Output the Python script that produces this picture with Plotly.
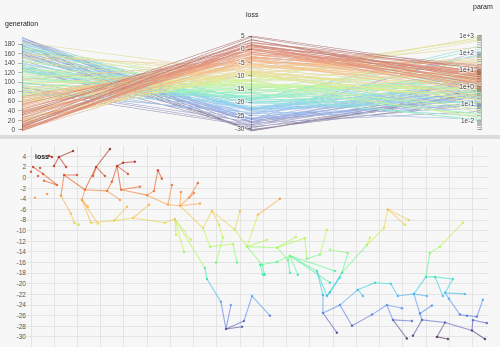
import math
import plotly.graph_objects as go
import plotly.colors as pc

# ---------------- data (one entry per individual) ----------------
node_id = [
    "A1","A2","A3","A4","A5","A6","A7","A8","A9","A10","A11","A12","A13","A14","A15",
    "B1","B2","B3","B4","B5","B6","B7","B8","B9","B10","B11","B12","B13","B14","B15",
    "B16","B17","B18","B19","B20","B21","B22","B23","B24","B25","B26","B27","B28","B29","B30",
    "C1","C2","C3","C4","C5",
    "D3","D4","D5","D6","D7","D8",
    "E1","E2","E3","E4","E5","E6","E7","E8","E9","E10","E11","E12","E13","E14","E15",
    "E16","E17","E18","E19","E20","E21","E22","E23","E24","E25","E26","E27","E28","E29","E30",
    "E31","E32","E33","E34","E35","E36","E37",
    "F1","F2","F3","F4","F5","F6","F7","F8","F9","F10","F11","F12","F13","F14",
    "G1","G2","G3","G4","G5","G6","G7","G8","G9","G10","G11","G12","G13","G14","G15",
    "G16","G17","G18","G19","G20","G21","G22","G23","G24","G25","G26","G27","G28","G29","G30",
    "G31","G32","G33",
    "H2","H3","H4","H5","H6","H7","H8","H9","H10","H14","H15","H16","H17","H18","H19","H20",
]
generation = [
    12.0,18.1,9.9,15.1,7.7,9.0,0.9,5.2,11.2,5.6,3.9,0.0,3.0,1.7,6.9,
    23.2,28.0,34.0,26.7,14.2,19.8,12.9,17.2,18.5,20.6,21.9,24.5,25.8,28.8,32.7,
    34.8,37.0,39.6,44.7,41.7,38.7,49.9,58.9,38.3,52.9,54.6,56.3,60.6,31.8,46.9,
    35.7,43.9,50.8,41.3,57.6,
    64.1,68.0,71.8,70.1,72.7,64.5,
    61.9,62.4,68.8,65.8,74.8,75.7,81.7,83.9,90.8,86.0,91.6,95.1,102.8,74.0,77.8,
    77.0,87.7,89.9,80.9,82.6,79.6,86.9,88.6,92.9,99.4,97.6,107.1,100.6,105.8,110.5,
    111.4,114.0,117.8,118.7,127.3,124.3,101.5,
    111.4,130.8,123.0,127.3,114.8,105.8,98.5,99.8,128.6,125.6,131.6,125.6,132.9,132.9,
    153.5,162.6,160.9,151.8,144.5,133.8,128.6,145.8,136.3,128.6,185.8,175.9,171.6,169.9,173.8,
    164.7,157.8,154.8,148.0,140.6,142.8,170.3,167.3,181.5,178.1,179.8,184.5,187.5,191.8,194.4,
    186.7,177.2,172.5,
    138.1,146.7,153.1,159.6,155.7,163.9,168.2,161.7,164.3,178.1,174.6,179.4,189.7,195.3,190.1,196.1,
]
loss = [
    3.9,5.0,2.2,2.0,4.1,3.9,2.0,0.7,-1.4,-0.6,1.8,1.1,0.3,-3.8,-3.1,
    -2.3,2.0,5.4,0.3,0.5,0.5,-3.4,-6.8,-8.5,-8.9,-4.2,-5.5,-8.5,-8.7,-2.5,
    -0.8,2.2,2.8,3.0,0.7,-2.3,-3.3,-5.1,-4.2,-2.5,1.4,-0.2,-1.4,0.3,-1.7,
    -8.1,-7.6,-5.1,-5.5,-8.5,
    -5.3,-3.8,-1.0,-2.9,-4.9,-2.7,
    -7.8,-10.8,-11.7,-14.0,-17.0,-19.1,-23.4,-28.5,-28.1,-24.0,-27.0,-22.3,-26.0,-9.5,-6.3,
    -13.0,-9.8,-6.3,-8.9,-11.3,-16.0,-12.5,-16.0,-13.0,-16.4,-7.0,-4.0,-18.3,-13.2,-15.5,
    -17.9,-11.2,-11.4,-15.3,-9.8,-14.5,-11.7,
    -14.7,-17.6,-17.6,-22.3,-18.3,-15.9,-16.4,-18.3,-19.8,-22.1,-29.2,-25.5,-24.0,-18.8,
    -6.0,-8.0,-8.9,-9.5,-12.7,-17.9,-21.6,-11.3,-14.2,-13.6,-8.5,-13.0,-14.2,-18.7,-18.7,
    -21.9,-22.3,-20.0,-19.8,-21.1,-22.3,-22.3,-25.6,-19.1,-21.7,-22.8,-25.8,-26.0,-26.2,-23.0,
    -21.9,-22.3,-24.1,
    -27.9,-25.8,-24.0,-24.6,-26.8,-27.0,-26.8,-30.3,-29.8,-27.3,-30.0,-30.4,-28.8,-30.4,-26.8,-27.4,
]
param = [
    4.0,8.0,2.5,6.0,1.5,3.0,1.2,5.0,9.0,2.0,0.8,15,0.6,0.3,25,
    3.5,7.0,12,1.8,4.5,10,2.2,0.9,0.5,0.2,3.0,1.0,40,0.05,6.5,
    8.5,5.5,14,20,2.8,4.0,1.6,2.0,11,7.5,18,9.5,3.2,1.1,6.0,
    0.7,0.35,30,1.4,0.12,
    3.8,5.2,16,2.4,0.9,7.0,
    0.25,600,0.04,1.3,0.6,0.15,0.4,0.8,2.6,0.09,0.3,1.7,150,900,4.2,
    0.02,2.0,45,0.18,6.0,0.011,0.7,3.3,0.45,0.03,250,8.0,1.9,0.07,12,
    0.55,1000,0.016,2.2,0.2,35,4.8,
    0.9,0.013,6.5,0.28,80,1.5,0.11,3.9,0.6,15,0.5,0.13,1.2,300,
    2.8,700,0.05,9.0,0.33,4.5,0.17,22,0.025,1.0,60,0.8,3.0,0.3,200,
    0.7,2.4,0.08,1.3,0.45,5.0,0.15,0.9,0.02,1.6,0.25,4.0,0.6,0.1,0.014,
    7.5,0.4,100,
    0.7,0.2,2.0,0.06,1.1,0.35,3.5,0.5,0.15,1.4,0.3,0.8,0.1,0.45,2.5,0.04,
]
parent = [
    None,"A1","A1","A1",None,"A5",None,"A7","A8","A9",None,None,None,None,None,
    None,"B1","B2","B2","B1","B5","B5","B7","B8","B9","B1","B11","B11","B11","B1",
    "B15","B16","B17","B18","B17","B17","B21","B22","B15","B22","B25","B26","B23","B2","B21",
    "B13","C1","C2","C1","C2",
    "B23","D3","D4","D4","D3","D3",
    "C5","E1","E1","E1","E1","E5","E6","E7","E8","E8","E8","E11","E12","D3","E14",
    "E14","E15","E17","E15","E19","E20","E16","E22","E17","E24","E24","E26","E25","E24","E29",
    "E30","E29","E29","E33","E36","E34","E24",
    "E30","F1","F1","F3","F1","F1","F6","F7","F1","F3","F12","F10","F12","F4",
    "G4","G1","G1","G5","G6","G7","F4","G5","G6","G9","G12","G13","G14","G16","G14",
    "G17","G18","G19","G20","F13","G20","G16","G16","G15","G24","G25","G26","G27","G28","G29",
    "G25","G15","G23",
    "F13","H2","H3","H4","H4","H6","G23","H6","H8","H8","H14","H15","H14","H17","H17","H19",
]

gen_ticks = [0, 20, 40, 60, 80, 100, 120, 140, 160, 180]
loss_ticks = [5, 0, -5, -10, -15, -20, -25, -30]
param_exps = [-2, -1, 0, 1, 2, 3]
param_labels = ["1e-2", "1e-1", "1e+0", "1e+1", "1e+2", "1e+3"]
xy_loss_ticks = list(range(-30, 5, 2))

# ---------------- colours ----------------
LMIN, LMAX = min(loss), max(loss)
BG = (247, 247, 247)
turbo = [pc.hex_to_rgb(c) if c.startswith("#") else pc.unlabel_rgb(c) for c in pc.sequential.Turbo]

def turbo_rgb(t):
    t = max(0.0, min(1.0, t))
    pos = t * (len(turbo) - 1)
    i = min(int(pos), len(turbo) - 2)
    f = pos - i
    a, b = turbo[i], turbo[i + 1]
    return tuple(a[k] + (b[k] - a[k]) * f for k in range(3))

def rgba(t, alpha):
    r, g, b = turbo_rgb(t)
    return f"rgba({int(r)},{int(g)},{int(b)},{alpha})"

def blended(t, w):
    c = turbo_rgb(t)
    r, g, b = (int(c[k] * w + BG[k] * (1 - w)) for k in range(3))
    return f"rgb({r},{g},{b})"

n_steps = 24
pc_scale = [[k / n_steps, blended(k / n_steps, 0.5)] for k in range(n_steps + 1)]

# ---------------- figure ----------------
fig = go.Figure()

# parallel coordinates (param axis shown in log10 units)
p_vals, p_text = [], []
blank = 0
for e in range(-3, 4):
    for m in range(1, 10):
        v = e + math.log10(m)
        if -2.55 <= v <= 3.05:
            p_vals.append(round(v, 4))
            if m == 1 and e in param_exps:
                p_text.append(param_labels[param_exps.index(e)])
            else:
                blank += 1
                p_text.append(" " * blank)

fig.add_trace(go.Parcoords(
    domain=dict(x=[0.044, 0.964], y=[0.617, 0.905]),
    line=dict(color=loss, colorscale=pc_scale, cmin=LMIN, cmax=LMAX),
    tickfont=dict(size=6.5, color="#444", family="Liberation Sans"),
    labelfont=dict(size=1, color="rgba(0,0,0,0)"),
    rangefont=dict(size=1, color="rgba(0,0,0,0)"),
    dimensions=[
        dict(label=" ", values=generation, range=[0, 199],
             tickvals=gen_ticks, ticktext=[str(v) for v in gen_ticks]),
        dict(label="  ", values=loss, range=[LMIN, LMAX],
             tickvals=loss_ticks, ticktext=[str(v) for v in loss_ticks]),
        dict(label="   ", values=[math.log10(p) for p in param], range=[-2.55, 3.05],
             tickvals=p_vals, ticktext=p_text),
    ],
))

# tree edges, grouped by colour
idx = {n: i for i, n in enumerate(node_id)}
groups = {}
for i, p in enumerate(parent):
    if p is None:
        continue
    j = idx[p]
    t = ((loss[i] + loss[j]) / 2 - LMIN) / (LMAX - LMIN)
    key = round(t * 40)
    groups.setdefault(key, ([], []))
    gx, gy = groups[key]
    gx += [generation[j], generation[i], None]
    gy += [loss[j], loss[i], None]

for key, (gx, gy) in sorted(groups.items()):
    fig.add_trace(go.Scatter(
        x=gx, y=gy, mode="lines", hoverinfo="skip",
        line=dict(color=rgba(key / 40, 0.55), width=1.1),
        showlegend=False, xaxis="x", yaxis="y",
    ))

fig.add_trace(go.Scatter(
    x=generation, y=loss, mode="markers",
    marker=dict(size=2.5, color=[rgba((l - LMIN) / (LMAX - LMIN), 0.7) for l in loss]),
    showlegend=False, xaxis="x", yaxis="y",
))

fig.update_layout(
    width=500, height=347,
    margin=dict(l=0, r=0, t=0, b=0),
    paper_bgcolor="#f7f7f7", plot_bgcolor="#f7f7f7",
    font=dict(family="Liberation Sans", size=7, color="#333"),
    xaxis=dict(domain=[0.054, 0.976], range=[-1.72, 196.6], tick0=0, dtick=10,
               showticklabels=False, showgrid=True, gridcolor="#e4e4e4", gridwidth=1,
               zeroline=False, showline=False, ticks="", automargin=False),
    yaxis=dict(domain=[0, 0.58], range=[-31.9, 6], tickvals=xy_loss_ticks,
               ticktext=[str(v) for v in xy_loss_ticks],
               tickfont=dict(size=6.5, color="#555"),
               showgrid=True, gridcolor="#e4e4e4", gridwidth=1,
               zeroline=False, showline=False, ticks="", automargin=False),
    shapes=[dict(type="rect", xref="paper", yref="paper", x0=0, x1=1,
                 y0=1 - 139 / 347, y1=1 - 135 / 347,
                 fillcolor="#dcdcdc", line=dict(width=0), layer="below")],
    annotations=[
        dict(text="generation", x=21 / 500, y=1 - 24 / 347, xref="paper", yref="paper",
             xanchor="center", yanchor="middle",
             showarrow=False, font=dict(size=7, color="#222")),
        dict(text="loss", x=252 / 500, y=1 - 15 / 347, xref="paper", yref="paper",
             xanchor="center", yanchor="middle",
             showarrow=False, font=dict(size=7, color="#222")),
        dict(text="param", x=483 / 500, y=1 - 7 / 347, xref="paper", yref="paper",
             xanchor="center", yanchor="middle",
             showarrow=False, font=dict(size=7, color="#222")),
        dict(text="<b>loss</b>", x=33 / 500, y=1 - 156 / 347, xref="paper", yref="paper",
             xanchor="left", yanchor="middle",
             showarrow=False, font=dict(size=7, color="#222")),
    ],
)

fig.write_html("out.html")
